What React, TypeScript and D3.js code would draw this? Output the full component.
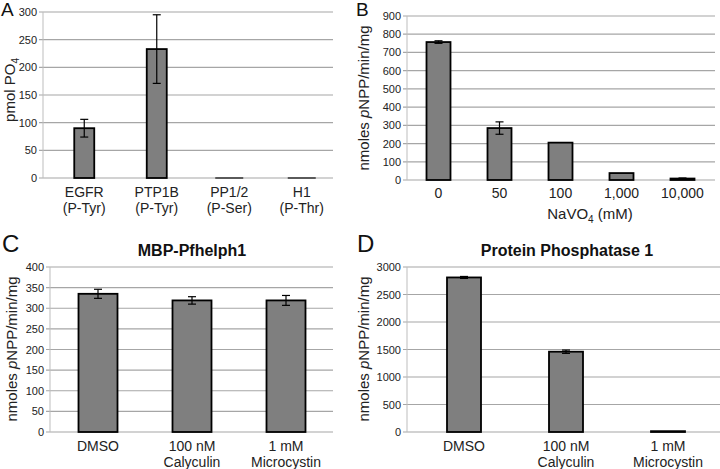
import React from "react";
import * as d3 from "d3";

// panel A
const catsA = [["EGFR", "(P-Tyr)"], ["PTP1B", "(P-Tyr)"], ["PP1/2", "(P-Ser)"], ["H1", "(P-Thr)"]];
const valsA = [90, 233, 0, 0];
const errA = [16, 62, 0, 0];
const ticksA = [0, 50, 100, 150, 200, 250, 300];

// panel B
const catsB = [["0"], ["50"], ["100"], ["1,000"], ["10,000"]];
const valsB = [757, 285, 205, 38, 8];
const errB = [7, 34, 0, 0, 3];
const ticksB = [0, 100, 200, 300, 400, 500, 600, 700, 800, 900];

// panel C
const catsC = [["DMSO"], ["100 nM", "Calyculin"], ["1 mM", "Microcystin"]];
const valsC = [335, 319, 319];
const errC = [11, 9, 12];
const ticksC = [0, 50, 100, 150, 200, 250, 300, 350, 400];

// panel D
const catsD = [["DMSO"], ["100 nM", "Calyculin"], ["1 mM", "Microcystin"]];
const valsD = [2810, 1460, 15];
const errD = [18, 30, 0];
const ticksD = [0, 500, 1000, 1500, 2000, 2500, 3000];

const FONT = "'Liberation Sans', Arial, sans-serif";

type PanelProps = {
  cats: string[][];
  vals: number[];
  errs: number[];
  ticks: number[];
  top: number;
  bottom: number;
  axisX: number;
  right: number;
  band: [number, number];
  barW: number;
  labelY: number;
};

const Panel: React.FC<PanelProps> = (p) => {
  const max = p.ticks[p.ticks.length - 1];
  const y = d3.scaleLinear().domain([0, max]).range([p.bottom, p.top]);
  const x = d3
    .scaleBand<number>()
    .domain(p.cats.map((_, i) => i))
    .range(p.band);

  return (
    <g>
      {p.ticks.map((t) => (
        <g key={t}>
          <line x1={p.axisX - 4} x2={p.right} y1={y(t)} y2={y(t)} stroke="#a6a6a6" strokeWidth={1.2} />
          <text x={p.axisX - 6} y={y(t) + 4} textAnchor="end" fontSize={11} fill="#222">
            {t}
          </text>
        </g>
      ))}
      <line x1={p.axisX} x2={p.axisX} y1={p.top} y2={p.bottom} stroke="#bdbdbd" strokeWidth={1} />
      {p.vals.map((v, i) => {
        const cx = x(i)! + x.bandwidth() / 2;
        const h = p.bottom - y(v);
        const e = p.errs[i];
        return (
          <g key={i}>
            {v > 0 ? (
              <rect x={cx - p.barW / 2} y={y(v)} width={p.barW} height={Math.max(h, 0.5)} fill="#7f7f7f" stroke="#000" strokeWidth={1.8} />
            ) : (
              <line x1={cx - p.barW / 2 - 4} x2={cx + p.barW / 2 + 4} y1={p.bottom} y2={p.bottom} stroke="#5a5a5a" strokeWidth={2} />
            )}
            {e > 0 && (
              <g stroke="#000" strokeWidth={1.2}>
                <line x1={cx} x2={cx} y1={y(v + e)} y2={y(v - e)} />
                <line x1={cx - 4} x2={cx + 4} y1={y(v + e)} y2={y(v + e)} />
                <line x1={cx - 4} x2={cx + 4} y1={y(v - e)} y2={y(v - e)} />
              </g>
            )}
            <text x={cx} y={p.labelY} textAnchor="middle" fontSize={14} fill="#222">
              {p.cats[i].map((l, j) => (
                <tspan key={j} x={cx} dy={j === 0 ? 0 : 16}>
                  {l}
                </tspan>
              ))}
            </text>
          </g>
        );
      })}
    </g>
  );
};

const YTitle: React.FC<{ x: number; y: number; pnpp?: boolean; children?: React.ReactNode }> = ({ x, y, pnpp, children }) => (
  <text transform={`translate(${x},${y}) rotate(-90)`} textAnchor="middle" fontSize={15} fill="#222">
    {pnpp ? (
      <>
        nmoles <tspan fontStyle="italic">p</tspan>NPP/min/mg
      </>
    ) : (
      children
    )}
  </text>
);

export default function App() {
  return (
    <svg
      width={720}
      height={469}
      style={{ position: "absolute", left: 0, top: 0, background: "#fff" }}
      fontFamily={FONT}
    >
      {/* A */}
      <text x={1} y={16} fontSize={19} fill="#111">A</text>
      <Panel cats={catsA} vals={valsA} errs={errA} ticks={ticksA} top={12} bottom={178} axisX={43} right={333} band={[48, 338]} barW={20} labelY={197} />
      <YTitle x={15} y={90}>
        pmol PO<tspan fontSize={10} dy={4}>4</tspan>
      </YTitle>

      {/* B */}
      <text x={356} y={16} fontSize={19} fill="#111">B</text>
      <Panel cats={catsB} vals={valsB} errs={errB} ticks={ticksB} top={16} bottom={180} axisX={407} right={715} band={[408, 713]} barW={24} labelY={198} />
      <YTitle x={369} y={98} pnpp />
      <text x={590} y={219} textAnchor="middle" fontSize={15} fill="#222">
        NaVO<tspan fontSize={10} dy={4}>4</tspan>
        <tspan dy={-4}> (mM)</tspan>
      </text>

      {/* C */}
      <text x={2} y={252} fontSize={24} fill="#111">C</text>
      <text x={192} y={256} textAnchor="middle" fontSize={16} fontWeight="bold" fill="#111">MBP-Pfhelph1</text>
      <Panel cats={catsC} vals={valsC} errs={errC} ticks={ticksC} top={267} bottom={432} axisX={50} right={333} band={[51, 333]} barW={39} labelY={451} />
      <YTitle x={17} y={349} pnpp />

      {/* D */}
      <text x={357} y={252} fontSize={24} fill="#111">D</text>
      <text x={567} y={256} textAnchor="middle" fontSize={16} fontWeight="bold" fill="#111">Protein Phosphatase 1</text>
      <Panel cats={catsD} vals={valsD} errs={errD} ticks={ticksD} top={267} bottom={432} axisX={407} right={720} band={[413, 719]} barW={34} labelY={451} />
      <YTitle x={369} y={349} pnpp />
    </svg>
  );
}
